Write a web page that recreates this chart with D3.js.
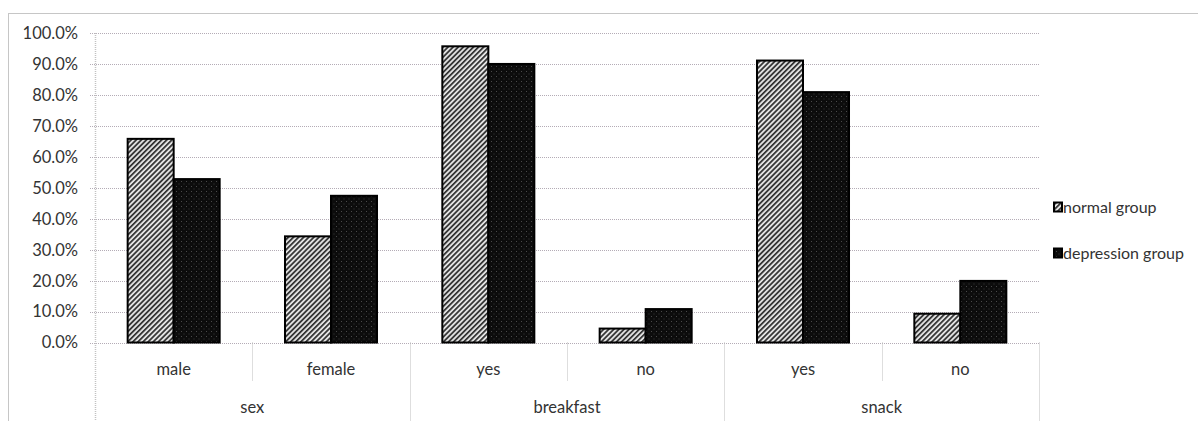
<!DOCTYPE html>
<html>
<head>
<meta charset="utf-8">
<script src="https://cdn.jsdelivr.net/npm/d3@7"></script>
<style>
  html, body { margin: 0; padding: 0; background: #fff; }
  svg { display: block; }
  text { font-family: Lato, "Open Sans", sans-serif; fill: #333; }
</style>
</head>
<body>
<svg id="chart" width="1198" height="421"></svg>
<script>
// Share of each group (%) by characteristic
const groups = ["sex", "breakfast", "snack"];
const categories = ["male", "female", "yes", "no", "yes", "no"];
const categoryGroup = [0, 0, 1, 1, 2, 2];
const seriesNames = ["normal group", "depression group"];
const normalValues = [65.8, 34.3, 95.7, 4.5, 91.1, 9.3];
const depressionValues = [52.8, 47.4, 90.0, 10.8, 80.9, 19.9];
const yTicks = [0, 10, 20, 30, 40, 50, 60, 70, 80, 90, 100];

const svg = d3.select("#chart");
const W = 1198, H = 421;
const plotLeft = 95, plotRight = 1039, plotTop = 33, zeroY = 342.5;
const gridColor = "#b4acb6";

// fill patterns
const defs = svg.append("defs");
const hatch = defs.append("pattern")
  .attr("id", "hatch").attr("patternUnits", "userSpaceOnUse")
  .attr("width", 3.6).attr("height", 3.6)
  .attr("patternTransform", "rotate(45)");
hatch.append("rect").attr("width", 3.6).attr("height", 3.6).attr("fill", "#e2e2e2");
hatch.append("rect").attr("x", 0).attr("width", 1.7).attr("height", 3.6).attr("fill", "#2e2e2e");

const dots = defs.append("pattern")
  .attr("id", "dots").attr("patternUnits", "userSpaceOnUse")
  .attr("width", 5).attr("height", 5);
dots.append("rect").attr("width", 5).attr("height", 5).attr("fill", "#0c0c0c");
dots.append("rect").attr("x", 1).attr("y", 1).attr("width", 1).attr("height", 1).attr("fill", "#4a4a4a");
dots.append("rect").attr("x", 3.5).attr("y", 3.5).attr("width", 1).attr("height", 1).attr("fill", "#3a3a3a");

const fills = ["url(#hatch)", "url(#dots)"];
const seriesValues = [normalValues, depressionValues];

// outer chart frame
svg.append("rect")
  .attr("x", 8.5).attr("y", 13.5).attr("width", W).attr("height", H)
  .attr("fill", "none").attr("stroke", "#8c8c8c")
  .attr("stroke-dasharray", "1,1");

const x = d3.scaleBand().domain(d3.range(categories.length)).range([plotLeft, plotRight]).paddingInner(0).paddingOuter(0);
const xs = d3.scaleBand().domain(d3.range(seriesNames.length)).range([0, x.bandwidth()]).paddingInner(0).paddingOuter(0.71);
const y = d3.scaleLinear().domain([0, 100]).range([zeroY, plotTop]);

// horizontal gridlines with small ticks left of the axis
const grid = svg.append("g");
grid.selectAll("line").data(yTicks).join("line")
  .attr("x1", plotLeft - 5).attr("x2", plotRight)
  .attr("y1", d => Math.round(y(d)) + 0.5).attr("y2", d => Math.round(y(d)) + 0.5)
  .attr("stroke", gridColor).attr("stroke-width", 1).attr("stroke-dasharray", "1,1");

// value axis line (extends through the category label area)
svg.append("line")
  .attr("x1", plotLeft + 0.5).attr("x2", plotLeft + 0.5).attr("y1", plotTop).attr("y2", H)
  .attr("stroke", "#c2c2c2").attr("stroke-width", 1.5).attr("stroke-dasharray", "1,1");

// value axis labels
svg.append("g").selectAll("text").data(yTicks).join("text")
  .attr("x", 78).attr("y", d => y(d))
  .attr("dy", "0.36em").attr("text-anchor", "end")
  .style("font-size", "16.5px")
  .text(d => d.toFixed(1) + "%");

// category separators: short ticks between items, long ticks between groups
const sep = svg.append("g");
for (let i = 1; i <= categories.length; i++) {
  const xPos = Math.round(i < categories.length ? x(i) : plotRight) + 0.5;
  const groupEnd = i === categories.length || categoryGroup[i] !== categoryGroup[i - 1];
  sep.append("line")
    .attr("x1", xPos).attr("x2", xPos)
    .attr("y1", zeroY).attr("y2", groupEnd ? H : 381)
    .attr("stroke", "#bcbcbc").attr("stroke-width", 1).attr("stroke-dasharray", "1,1");
}

// bars
const bars = svg.append("g");
categories.forEach((c, i) => {
  seriesValues.forEach((vals, s) => {
    bars.append("rect")
      .attr("x", x(i) + xs(s))
      .attr("y", y(vals[i]))
      .attr("width", xs.bandwidth())
      .attr("height", zeroY - y(vals[i]))
      .attr("fill", fills[s])
      .attr("stroke", "#000").attr("stroke-width", 2);
  });
});

// category labels
svg.append("g").selectAll("text").data(categories).join("text")
  .attr("x", (d, i) => x(i) + x.bandwidth() / 2)
  .attr("y", 369).attr("dy", "0.36em").attr("text-anchor", "middle")
  .style("font-size", "16.5px")
  .text(d => d);

// group labels
svg.append("g").selectAll("text").data(groups).join("text")
  .attr("x", (d, g) => {
    const idx = d3.range(categories.length).filter(i => categoryGroup[i] === g);
    return (x(idx[0]) + x(idx[idx.length - 1]) + x.bandwidth()) / 2;
  })
  .attr("y", 407).attr("dy", "0.36em").attr("text-anchor", "middle")
  .style("font-size", "16.5px")
  .text(d => d);

// legend
const legend = svg.append("g");
const legendY = [207, 253];
seriesNames.forEach((name, s) => {
  legend.append("rect")
    .attr("x", 1054).attr("y", legendY[s] - 4.5)
    .attr("width", 8).attr("height", 9)
    .attr("fill", fills[s]).attr("stroke", "#000").attr("stroke-width", 2);
  legend.append("text")
    .attr("x", 1063).attr("y", legendY[s]).attr("dy", "0.36em")
    .style("font-size", "16px")
    .text(name);
});
</script>
</body>
</html>
